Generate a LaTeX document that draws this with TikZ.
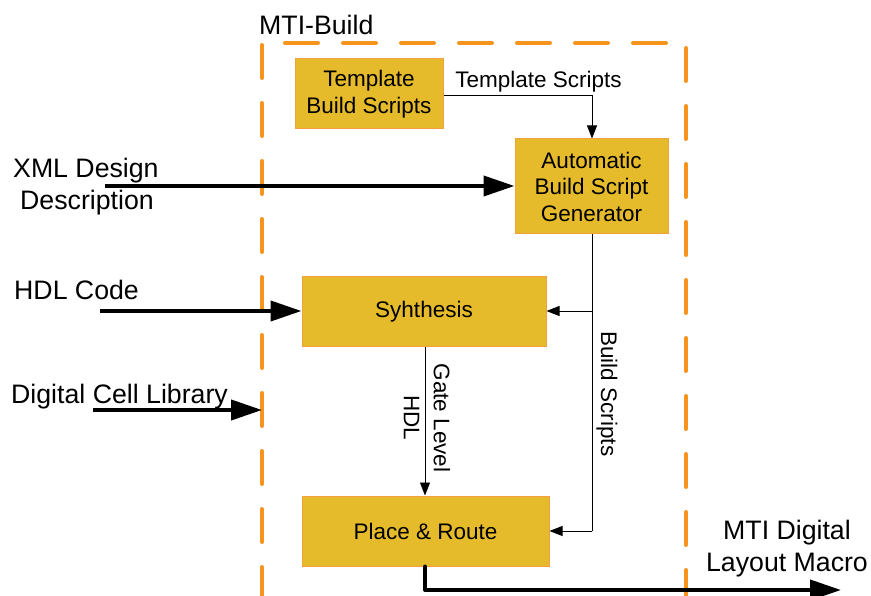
\documentclass[tikz,border=0pt]{standalone}
\usepackage{fontspec}
\setmainfont{Liberation Sans}
\usetikzlibrary{arrows.meta}
\definecolor{boxfill}{RGB}{230,187,43}
\definecolor{boxedge}{RGB}{244,160,60}
\definecolor{dashorange}{RGB}{247,148,30}
\tikzset{
  blk/.style={draw=boxedge, line width=1pt, fill=boxfill, inner sep=0pt, align=center, font=\fontsize{22.5}{26.5}\selectfont},
  lbl/.style={inner sep=0pt, align=center, font=\fontsize{26.7}{32}\selectfont},
  small/.style={font=\fontsize{22.5}{28}\selectfont},
  thin/.style={line width=0.9pt, -{Triangle[length=13pt,width=10pt]}},
  thick/.style={line width=4pt, -{Triangle[length=31pt,width=20pt]}},
}
\begin{document}
\begin{tikzpicture}[x=1pt,y=-1pt]
\useasboundingbox (0,0) rectangle (871,596);
% dashed frame
\draw[dashorange, line width=4pt, line cap=round, dash pattern=on 33pt off 25pt]
  (262,600) -- (262,43) -- (686,43) -- (686,600);
\node[lbl, anchor=base west] (mti) at (259,35) {MTI-Build};

% blocks
\node[blk, minimum width=148pt, minimum height=70pt] (tbs) at (369,94) {Template\\Build Scripts};
\node[blk, minimum width=153pt, minimum height=95pt] (abs) at (591.5,186.5) {Automatic\\Build Script\\Generator};
\node[blk, minimum width=244pt, minimum height=70pt] (syn) at (424,312) {Syhthesis};
\node[blk, minimum width=247pt, minimum height=70pt] (pr) at (425.5,531) {Place \& Route};

% template scripts
\draw[thin] (tbs.east |- 0,95) -| (abs.north -| 592,0);
\node[lbl, small, anchor=base] (tsl) at (538.5,88) {Template Scripts};

% build scripts
\coordinate (bs1) at (592,311);
\coordinate (bs2) at (592,531);
\draw[line width=0.9pt] (abs.south -| 592,0) -- (bs2);
\draw[thin] (bs1) -- (syn.east |- bs1);
\draw[thin] (bs2) -- (pr.east |- bs2);
\node[lbl, small, rotate=-90] (bsl) at (607,394) {Build Scripts};

% gate level HDL
\draw[thin] (syn.south -| 425,0) -- (pr.north -| 425,0);
\node[lbl, small, font=\fontsize{22.5}{30}\selectfont, rotate=-90] (gl) at (427,418) {Gate Level\\HDL};

% inputs
\node[lbl, anchor=base west] (xml1) at (13,178) {XML Design};
\node[lbl, anchor=base west] (xml2) at (20,210) {Description};
\coordinate (xmlstart) at (105,186);
\draw[thick] (xmlstart) -- (abs.west |- xmlstart);

\node[lbl, anchor=base west] (hdl) at (14,300) {HDL Code};
\coordinate (hdlstart) at (100,311);
\draw[thick] (hdlstart) -- (syn.west |- hdlstart);

\node[lbl, anchor=base west] (dcl) at (11,403) {Digital Cell Library};
\coordinate (dclstart) at (93,410);
\coordinate (dclend) at (262,410);
\draw[thick] (dclstart) -- (dclend);

% output
\coordinate (outc) at (425,590);
\coordinate (outend) at (841,590);
\draw[line width=4pt, line cap=round] (pr.south -| 425,0) -- (outc);
\draw[thick] (outc) -- (outend);
\node[lbl] (outl) at (787,549) {MTI Digital\\Layout Macro};
\end{tikzpicture}
\end{document}
